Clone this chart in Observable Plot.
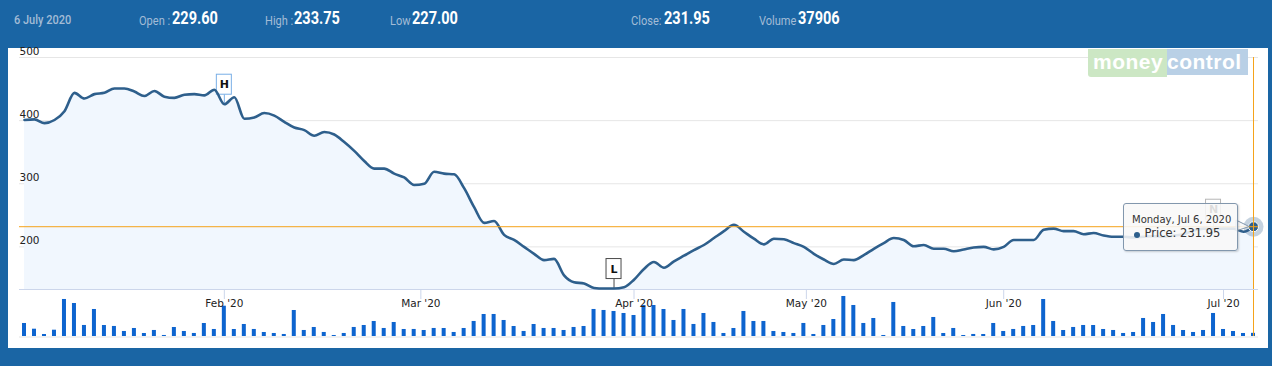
<!DOCTYPE html>
<html>
<head>
<meta charset="utf-8">
<script src="https://cdn.jsdelivr.net/npm/d3@7"></script>
<script src="https://cdn.jsdelivr.net/npm/@observablehq/plot@0.6"></script>
<style>
  html, body { margin:0; padding:0; }
  body { width:1272px; height:366px; overflow:hidden; background:#1a65a4; position:relative; }
  #panel { position:absolute; left:8px; top:48px; width:1260px; height:300px; background:#fff; }
  .layer { position:absolute; left:0; top:0; width:1272px; height:366px; }
  .hd { position:absolute; white-space:nowrap; line-height:1; transform-origin:0 0; font-family:Roboto, sans-serif; }
  .lab { font-size:13px; color:#a3bcd6; transform:scaleX(0.85); top:14px; }
  .val { font-size:17.5px; font-weight:700; color:#fff; transform:scaleX(0.83); top:10.3px; }
  .date { font-size:12.5px; font-weight:500; color:#a3bcd6; transform:scaleX(0.88); top:13.5px; left:14px; }
  #logo-g { position:absolute; left:1088px; top:49px; width:79px; height:28px; background:#cce7c4; border-bottom-left-radius:3px; }
  #logo-b { position:absolute; left:1167px; top:49px; width:81px; height:26px; background:#b9d0e6; }
  .logo-t { position:absolute; top:50.5px; line-height:1; font-family:"Liberation Sans", Arial, sans-serif; font-weight:700; font-size:21px; letter-spacing:0.5px; color:#fff; white-space:nowrap; }
  #tip { position:absolute; left:1123px; top:203px; width:113px; height:46px; background:rgba(248,248,248,0.88); border:1px solid #8297ad; border-radius:3px; box-shadow:1px 1px 2px rgba(0,0,0,0.18); font-family:"DejaVu Sans", sans-serif; color:#333; }
  #tip-h { position:absolute; left:8px; top:11px; font-size:10px; line-height:1; white-space:nowrap; }
  #tip-dot { position:absolute; left:9.5px; top:27.5px; width:6px; height:6px; border-radius:50%; background:#2e5f8c; }
  #tip-v { position:absolute; left:20.5px; top:24.3px; font-size:11.5px; line-height:1; white-space:nowrap; }
</style>
</head>
<body>
<div id="panel"></div>
<div id="vol" class="layer"></div>
<div id="price" class="layer"></div>
<div id="logo-g"></div><div id="logo-b"></div>
<div class="logo-t" style="left:1093px">money</div>
<div class="logo-t" style="left:1167px">control</div>
<div id="hdr"></div>
<svg class="layer" width="1272" height="366" style="pointer-events:none">
  <polygon points="1236,220 1249,226.5 1236,231" fill="rgba(248,248,248,0.88)" stroke="#8297ad" stroke-width="1"/>
</svg>
<div id="tip"><div id="tip-h"></div><span id="tip-dot"></span><div id="tip-v"></div></div>
<script>
// ---------- data ----------
const janDays = [6,7,8,9,10,13,14,15,16,17,20,21,22,23,24,27,28,29,30,31];
const febDays = [1,3,4,5,6,7,10,11,12,13,14,17,18,19,20,24,25,26,27,28];
const marDays = [2,3,4,5,6,9,11,12,13,16,17,18,19,20,23,24,25,26,27,30,31];
const aprDays = [1,3,7,8,9,13,15,16,17,20,21,22,23,24,27,28,29,30];
const mayDays = [4,5,6,7,8,11,12,13,14,15,18,19,20,21,22,26,27,28,29];
const junDays = [1,2,3,4,5,8,9,10,11,12,15,16,17,18,19,22,23,24,25,26,29,30];
const julDays = [1,2,3,6];

const prices = [
  401,402,396,401,415,444,435,442,444,451,
  451,446,439,447,438,436,441,442,440,449,
  426,437,403,405,412,408,398,389,385,376,
  382,378,366,352,336,324,324,316,310,298,
  300,319,316,315,293,263,238,241,219,211,
  200,189,179,181,155,144,142,135,134,134,
  136,148,165,176,167,177,186,195,203,214,
  225,235,224,213,204,213,212,206,200,189,
  180,173,180,179,187,197,206,214,211,201,
  203,197,197,193,196,199,200,196,200,211,
  211,211,227,229,225,225,220,222,218,216,
  216,215,216,217,216,218,220,226,229,228,
  229,229,224,231.95
];

const volumes = [
  156200,87600,24100,75600,444300,396100,132400,324200,131800,120500,
  60300,96200,36100,72400,12300,108100,60200,36400,156100,84300,
  363600,84100,144200,84400,48100,36200,24300,312100,72300,108200,
  48400,12100,36300,108400,132100,180200,96300,168100,84200,84500,
  72100,96400,96100,48300,96200,180400,264100,264300,192200,120100,
  60400,144100,96300,96200,72200,108300,120200,324400,312300,300100,
  276200,252100,372300,372100,324100,192300,324300,144400,276100,168300,
  36200,96100,300300,180100,180300,60100,48200,36300,156400,24200,
  132300,204100,480200,372200,156300,216100,12200,408300,120300,84100,
  120200,228300,36100,96300,12100,24400,24100,156200,60200,84400,
  120400,132200,444100,180300,72100,108400,132300,132100,84200,72300,
  36300,48200,216300,168200,264200,132400,72100,48300,72200,276300,
  84200,60100,36200,37906
];

const yTicks = [500, 400, 300, 200];
const monthTickDates = ["2020-02-01","2020-03-01","2020-04-01","2020-05-01","2020-06-01","2020-07-01"];
const monthLabels = ["Feb '20","Mar '20","Apr '20","May '20","Jun '20","Jul '20"];

const flagLabels = ["H", "L", "N"];
const flagDates = ["2020-02-01", "2020-03-30", "2020-06-30"];
const flagColors = ["#79aee6", "#4a4a4a", "#b5b5b5"];

const headerDate = "6 July 2020";
const headerLabels = ["Open :", "High :", "Low", "Close:", "Volume"];
const headerValues = ["229.60", "233.75", "227.00", "231.95", "37906"];

// ---------- build ----------
const months = [janDays, febDays, marDays, aprDays, mayDays, junDays, julDays];
const dates = months.flatMap((days, m) => days.map(d => new Date(Date.UTC(2020, m, d))));
const rows = prices.map((v, i) => ({i, v, vol: volumes[i], date: dates[i]}));
const n = rows.length;
const last = rows[n - 1];

// ordinal (trading-day) position of a calendar date
function ordinalPos(s) {
  const t = new Date(s + "T00:00:00Z").getTime();
  for (let i = 0; i < n - 1; i++) {
    const a = dates[i].getTime(), b = dates[i + 1].getTime();
    if (t >= a && t < b) return i + (t - a) / (b - a);
  }
  return n - 1;
}
const tickPos = monthTickDates.map(ordinalPos);
const labelOf = new Map(tickPos.map((p, k) => [p, monthLabels[k]]));
const flags = flagLabels.map((lab, k) => {
  const i = Math.round(ordinalPos(flagDates[k]));
  return {i, v: prices[i], label: lab, c: flagColors[k]};
});

const W = 1272, H = 366;
const yMin = 132.5, yMax = 500;
const xDom = [0, n - 1];
const lineColor = "#2e5f8c";
const orange = "#f5a31a";

const pricePlot = Plot.plot({
  width: W, height: H,
  marginLeft: 24, marginRight: 19, marginTop: 57, marginBottom: 77,
  x: {domain: xDom, axis: null, label: null},
  y: {domain: [yMin, yMax], axis: null, label: null},
  color: {type: "identity"},
  style: {background: "transparent", fontFamily: "DejaVu Sans, sans-serif", fontSize: "10.5px", color: "#222"},
  marks: [
    Plot.ruleY(yTicks, {x1: -0.5, x2: n - 0.5, stroke: "#e6e6e6"}),
    Plot.areaY(rows, {x: "i", y1: yMin, y2: "v", fill: "#f1f7fe", curve: "monotone-x"}),
    Plot.ruleY([yMin], {x1: -0.5, x2: n - 0.5, stroke: "#ccd6eb"}),
    Plot.axisX(tickPos, {tickFormat: d => labelOf.get(d), tickSize: 10, tickPadding: 0.5, stroke: "#ccd6eb", color: "#222", label: null}),
    Plot.ruleX(flags, {x: "i", y1: "v", y2: "v", insetTop: -9.5, insetBottom: 0, stroke: "c"}),
    Plot.rect(flags, {x1: "i", x2: "i", y1: "v", y2: "v", insetLeft: -7.5, insetRight: -7.5, insetTop: -10, insetBottom: -10, dy: -19.5, fill: "white", stroke: "c"}),
    Plot.text(flags, {x: "i", y: "v", text: "label", dy: -19.5, fontWeight: "bold", fontSize: 11, fill: "#111"}),
    Plot.line(rows, {x: "i", y: "v", stroke: lineColor, strokeWidth: 2.6, curve: "monotone-x"}),
    Plot.dot([last], {x: "i", y: "v", r: 10, fill: lineColor, fillOpacity: 0.28}),
    Plot.dot([last], {x: "i", y: "v", r: 5, fill: lineColor, stroke: "white", strokeWidth: 1}),
    Plot.ruleY([last.v], {x1: -0.5, x2: n - 0.5, stroke: orange}),
    Plot.ruleX([last.i], {y1: yMax, y2: yMin, stroke: orange}),
    Plot.axisY(yTicks, {anchor: "left", tickSize: 0, tickPadding: 0, dx: -5, dy: -6, textAnchor: "start", color: "#222", label: null})
  ]
});
document.getElementById("price").appendChild(pricePlot);

const volPlot = Plot.plot({
  width: W, height: H,
  marginLeft: 24, marginRight: 19, marginTop: 289, marginBottom: 30,
  x: {domain: xDom, axis: null, label: null},
  y: {domain: [0, 564000], axis: null, label: null},
  style: {background: "transparent"},
  marks: [
    Plot.ruleY([0], {x1: -0.5, x2: n - 0.5, stroke: "#e3e3e3", dy: 0.5}),
    Plot.rect(rows, {x1: "i", x2: "i", insetLeft: -2, insetRight: -2, y1: 0, y2: "vol", fill: "#0d64cf"}),
    Plot.ruleX([last.i], {stroke: orange})
  ]
});
document.getElementById("vol").appendChild(volPlot);

// ---------- header ----------
const hdr = document.getElementById("hdr");
const labLeft = [139, 265, 390, 631, 759];
const valLeft = [172, 294, 412, 664, 798];
function addSpan(cls, left, text) {
  const s = document.createElement("div");
  s.className = "hd " + cls;
  s.style.left = left + "px";
  s.textContent = text;
  hdr.appendChild(s);
}
addSpan("date", 14, headerDate);
headerLabels.forEach((t, k) => addSpan("lab", labLeft[k], t));
headerValues.forEach((t, k) => addSpan("val", valLeft[k], t));

// ---------- tooltip ----------
document.getElementById("tip-h").textContent = d3.utcFormat("%A, %b %-d, %Y")(last.date);
document.getElementById("tip-v").textContent = "Price: " + last.v.toFixed(2);
</script>
</body>
</html>
